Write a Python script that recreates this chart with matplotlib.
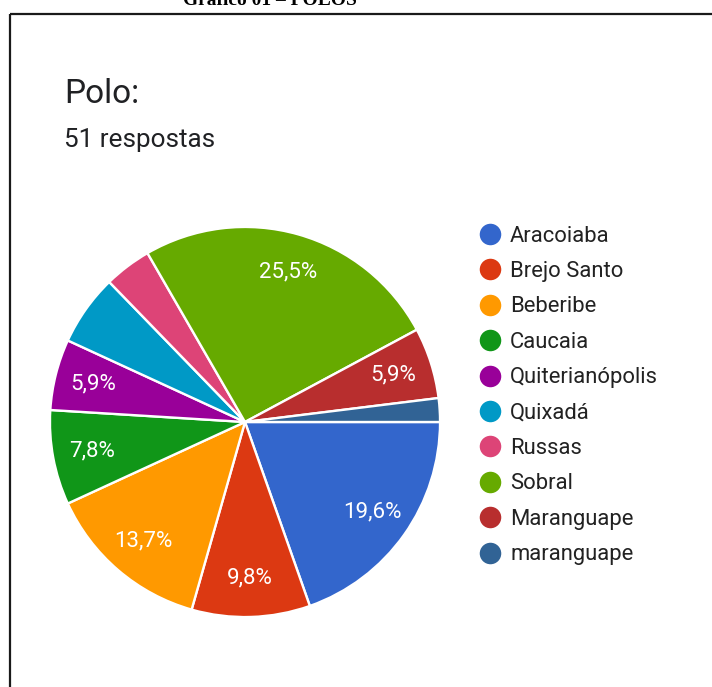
import matplotlib
matplotlib.use("Agg")
import matplotlib.pyplot as plt
from matplotlib.patches import Rectangle

categories = ["Aracoiaba", "Brejo Santo", "Beberibe", "Caucaia", "Quiterianópolis",
              "Quixadá", "Russas", "Sobral", "Maranguape", "maranguape"]
counts = [10, 5, 7, 4, 3, 3, 2, 13, 3, 1]
colors = ["#3366CC", "#DC3912", "#FF9900", "#109618", "#990099",
          "#0099C6", "#DD4477", "#66AA00", "#B82E2E", "#316395"]
show_label = [True, True, True, True, True, False, False, True, True, False]
total = sum(counts)

W, H = 712, 687
fig = plt.figure(figsize=(W / 100, H / 100), dpi=100)
fig.patch.set_facecolor("white")

# overlay pixel axes
ov = fig.add_axes([0, 0, 1, 1])
ov.set_xlim(0, W)
ov.set_ylim(H, 0)
ov.axis("off")

# frame box
ov.add_patch(Rectangle((10, 13.5), 720, 700, fill=False, edgecolor="#1a1a1a", lw=1.6, clip_on=True))

# figure caption (cut at top, as in the source)
ov.text(270, 5, "Gráfico 01 – POLOS", family="Liberation Serif", fontweight="bold",
        fontsize=14, ha="center", va="baseline", color="black")

ov.text(64, 102.7, "Polo:", family="Roboto", fontsize=24, color="#202124", va="baseline")
ov.text(64, 147, f"{total} respostas", family="Roboto", fontsize=18.8, color="#202124", va="baseline")

# pie
cx, cy, r = 245, 422, 197
pax = fig.add_axes([(cx - r) / W, (H - cy - r) / H, 2 * r / W, 2 * r / H])
wedges, texts, autotexts = pax.pie(
    counts, colors=colors, startangle=0, counterclock=False,
    autopct=lambda p: f"{p:.1f}%".replace(".", ","), pctdistance=0.8,
    wedgeprops=dict(edgecolor="white", linewidth=1.7),
    textprops=dict(family="Roboto", fontsize=16, color="white"))
for t, s in zip(autotexts, show_label):
    t.set_visible(s)
pax.set_xlim(-1.01, 1.01)
pax.set_ylim(-1.01, 1.01)
pax.set_aspect("equal")
pax.axis("off")

# legend
x0, y0, dy = 489.5, 234, 35.4
for i, (name, col) in enumerate(zip(categories, colors)):
    y = y0 + i * dy
    ov.plot([x0], [y], marker="o", markersize=15.5, color=col, markeredgewidth=0)
    ov.text(510, y + 7.6, name, family="Roboto", fontsize=15.8, color="#222222", va="baseline")

fig.savefig("out.png", dpi=100, facecolor="white")
